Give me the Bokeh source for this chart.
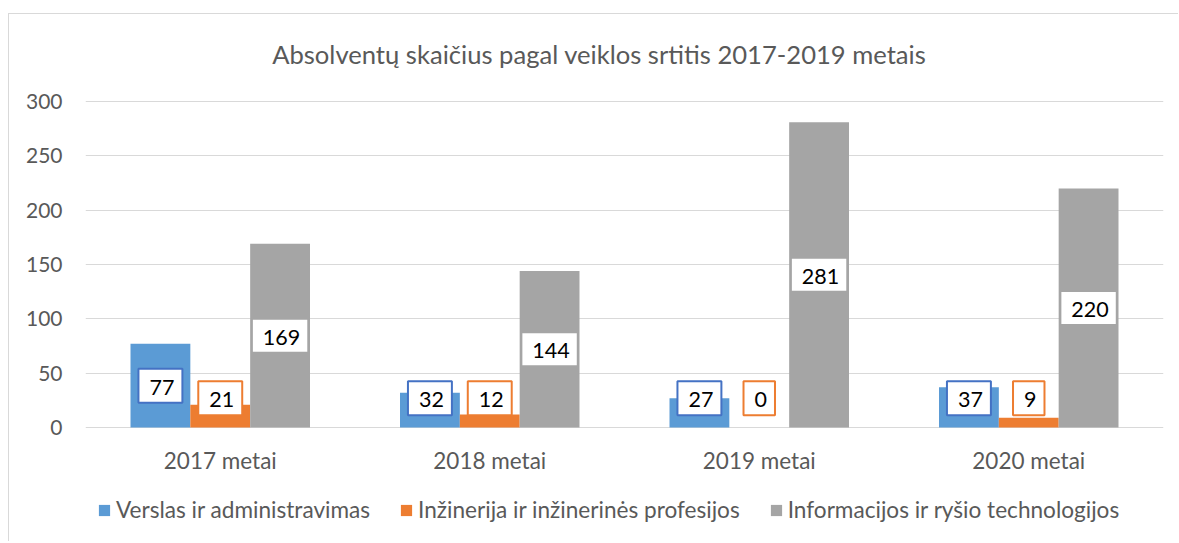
from bokeh.plotting import figure
from bokeh.models import ColumnDataSource, FactorRange, FixedTicker, Legend, LegendItem, Label
from bokeh.transform import dodge
from bokeh.core.properties import value
from bokeh.embed import file_html
from bokeh.resources import INLINE

# ---- data ----
categories = ["2017 metai", "2018 metai", "2019 metai", "2020 metai"]
verslas = [77, 32, 27, 37]
inzinerija = [21, 12, 0, 9]
informacijos = [169, 144, 281, 220]
series_names = ["Verslas ir administravimas",
                "Inžinerija ir inžinerinės profesijos",
                "Informacijos ir ryšio technologijos"]
title_text = "Absolventų skaičius pagal veiklos srtitis 2017-2019 metais"
y_ticks = [0, 50, 100, 150, 200, 250, 300]

# ---- style ----
colors = ["#5B9BD5", "#ED7D31", "#A5A5A5"]
label_borders = ["#4472C4", "#ED7D31", None]
FONT = "Lato"
TXT = "#595959"
GRID = "#D9D9D9"

# the frame holds the title, the bars, the category labels and the legend
px_per_unit = 326 / 300
border_top, border_bottom, H = 20, 8, 528
frame_h = H - border_top - border_bottom
y_top = 300 + (87 - border_top) / px_per_unit
y_bottom = y_top - frame_h / px_per_unit

p = figure(x_range=FactorRange(*categories, range_padding=0), y_range=(y_bottom, y_top),
           width=1170, height=H, output_backend="svg", toolbar_location=None,
           x_axis_location=None,
           min_border_left=76, min_border_right=16, min_border_top=border_top,
           min_border_bottom=border_bottom)
p.margin = (13, 0, 0, 8)
p.styles = {"border-left": "1px solid #D9D9D9", "border-top": "1px solid #D9D9D9"}
p.outline_line_color = None
p.background_fill_color = "white"
p.border_fill_color = "white"
p.title.text = ""
p.title.standoff = 0
p.title.visible = False

# title
p.add_layout(Label(x=187 / 270, y=300 + 48 / px_per_unit, text=title_text,
                   text_font=FONT, text_font_size="25.6px", text_color=TXT,
                   text_align="left", text_baseline="middle"))

bw = 0.222
offsets = [-bw, 0.0, bw]
series = [verslas, inzinerija, informacijos]
renderers = []
for i, vals in enumerate(series):
    if i < 2:
        ly = [max(v / 2, 27) for v in vals]
    else:
        ly = [v / 2 for v in vals]
    src = ColumnDataSource(dict(cat=categories, v=vals, ly=ly, lt=[str(v) for v in vals]))
    r = p.vbar(x=dodge("cat", offsets[i], range=p.x_range), top="v", bottom=0, width=bw,
               source=src, fill_color=colors[i], line_color=None)
    renderers.append(r)
    if label_borders[i]:
        kw = dict(border_line_color=label_borders[i], border_line_width=2, padding=(11, 8, 11, 8))
    else:
        kw = dict(border_line_color=None, padding=(10, 7, 10, 7))
    p.text(x=dodge("cat", offsets[i], range=p.x_range), y="ly", text="lt", source=src,
           text_font=value(FONT), text_font_size="21.5px", text_color="black",
           text_align="center", text_baseline="middle",
           background_fill_color="white", **kw)

# category labels (below the zero line)
cat_src = ColumnDataSource(dict(cat=categories, y=[-33 / px_per_unit] * len(categories)))
p.text(x="cat", y="y", text="cat", source=cat_src, text_font=value(FONT),
       text_font_size="22.5px", text_color=TXT, text_align="center", text_baseline="middle")

# y axis
p.yaxis.ticker = FixedTicker(ticks=y_ticks)
ax = p.yaxis[0]
ax.axis_line_color = None
ax.major_tick_line_color = None
ax.minor_tick_line_color = None
ax.major_tick_out = 0
ax.major_tick_in = 0
ax.major_label_text_font = FONT
ax.major_label_text_font_size = "21px"
ax.major_label_text_color = TXT
ax.major_label_standoff = 23
p.xgrid.grid_line_color = None
p.ygrid.ticker = FixedTicker(ticks=y_ticks)
p.ygrid.grid_line_color = GRID
p.ygrid.grid_line_width = 1

# legend
legend = Legend(items=[LegendItem(label=series_names[i], renderers=[renderers[i]]) for i in range(3)],
                orientation="horizontal", location=(12, 11),
                glyph_width=14, glyph_height=14, label_height=26, label_standoff=5, spacing=29,
                label_text_font=FONT, label_text_font_size="22.6px", label_text_color=TXT,
                padding=0, margin=0, border_line_color=None, background_fill_alpha=0)
p.add_layout(legend, "center")

open("out.html", "w").write(file_html(p, INLINE))
